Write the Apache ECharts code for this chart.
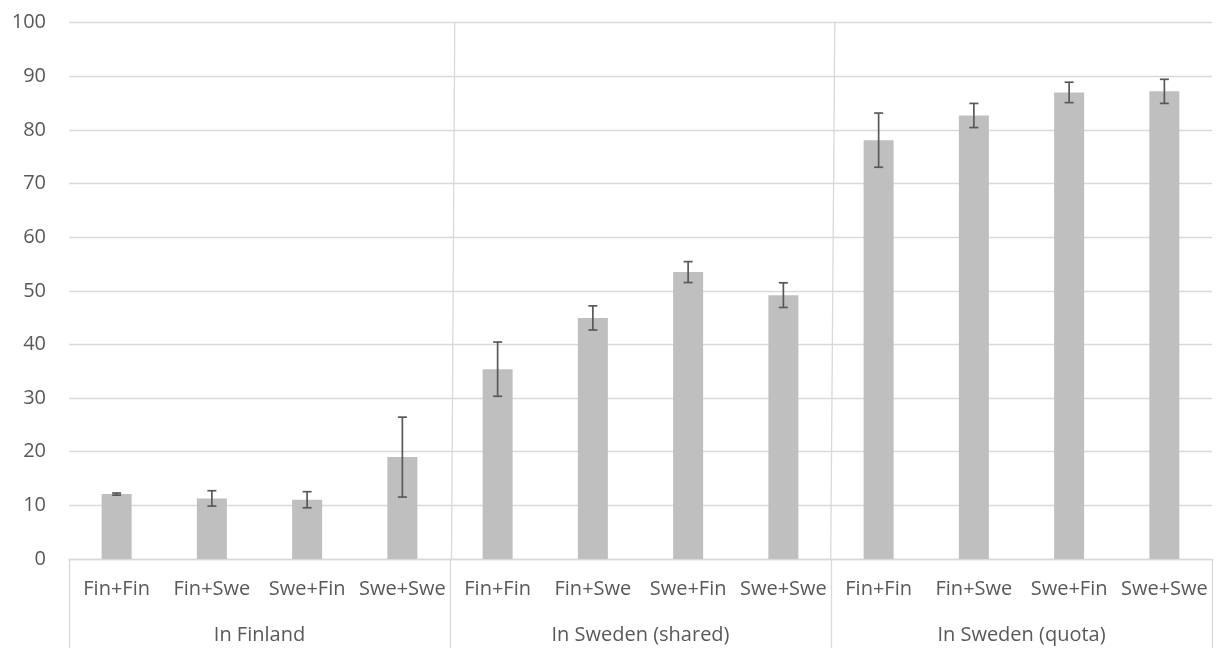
<!DOCTYPE html>
<html>
<head>
<meta charset="utf-8">
<script src="https://cdn.jsdelivr.net/npm/echarts@6/dist/echarts.min.js"></script>
<style>
  html, body { margin: 0; padding: 0; background: #ffffff; }
  #chart { width: 1217px; height: 648px; }
</style>
</head>
<body>
<div id="chart"></div>
<script>
// ---- data ----
const subCategories = ['Fin+Fin', 'Fin+Swe', 'Swe+Fin', 'Swe+Swe',
                       'Fin+Fin', 'Fin+Swe', 'Swe+Fin', 'Swe+Swe',
                       'Fin+Fin', 'Fin+Swe', 'Swe+Fin', 'Swe+Swe'];
const groups = ['In Finland', 'In Sweden (shared)', 'In Sweden (quota)'];
const values = [12.1, 11.3, 11.05, 19.0, 35.4, 44.95, 53.5, 49.2, 78.1, 82.7, 87.0, 87.2];
const errors = [0.2, 1.43, 1.5, 7.45, 5.06, 2.25, 1.95, 2.3, 5.05, 2.25, 1.9, 2.25];
const yTicks = { min: 0, max: 100, interval: 10 };
// group separators (in slot units): top / bottom positions
const separators = [[4.05, 4.016], [8.04, 7.997]];

const textColor = '#595959';
const gridColor = '#d9d9d9';
const fontFamily = "'Open Sans', 'Liberation Sans', sans-serif";
const fontSize = 20;

const errData = values.map((v, i) => [i, v - errors[i], v + errors[i]]);

const chart = echarts.init(document.getElementById('chart'), null, { renderer: 'canvas' });

const option = {
  animation: false,
  backgroundColor: '#ffffff',
  grid: { left: 69, right: 5, top: 22.7, bottom: 89, containLabel: false },
  xAxis: [
    {
      type: 'category',
      data: subCategories,
      position: 'bottom',
      axisLine: { show: true, lineStyle: { color: gridColor, width: 1.3 } },
      axisTick: { show: false },
      axisLabel: { color: textColor, fontSize: fontSize, fontFamily: fontFamily, margin: 20, interval: 0 },
      splitLine: { show: false }
    },
    {
      type: 'category',
      data: groups,
      position: 'bottom',
      axisLine: { show: false },
      axisTick: { show: true, length: 90, interval: 0, lineStyle: { color: gridColor, width: 1.3 } },
      axisLabel: { color: textColor, fontSize: fontSize, fontFamily: fontFamily, margin: 66, interval: 0 },
      splitLine: { show: false }
    },
    {
      type: 'value',
      min: 0,
      max: subCategories.length,
      show: false
    }
  ],
  yAxis: {
    type: 'value',
    min: yTicks.min,
    max: yTicks.max,
    interval: yTicks.interval,
    axisLine: { show: false },
    axisTick: { show: false },
    axisLabel: { color: textColor, fontSize: fontSize, fontFamily: fontFamily, margin: 23 },
    splitLine: { show: true, lineStyle: { color: gridColor, width: 1.3 } }
  },
  series: [
    {
      type: 'bar',
      xAxisIndex: 0,
      data: values,
      barWidth: '31.5%',
      itemStyle: { color: '#bfbfbf' },
      z: 2
    },
    {
      type: 'custom',
      xAxisIndex: 0,
      data: errData,
      z: 5,
      renderItem: function (params, api) {
        const idx = api.value(0);
        const lo = api.coord([idx, api.value(1)]);
        const hi = api.coord([idx, api.value(2)]);
        const cap = 4.5;
        const style = { stroke: '#595959', lineWidth: 1.7 };
        return {
          type: 'group',
          children: [
            { type: 'line', shape: { x1: lo[0], y1: lo[1], x2: hi[0], y2: hi[1] }, style: style },
            { type: 'line', shape: { x1: hi[0] - cap, y1: hi[1], x2: hi[0] + cap, y2: hi[1] }, style: style },
            { type: 'line', shape: { x1: lo[0] - cap, y1: lo[1], x2: lo[0] + cap, y2: lo[1] }, style: style }
          ]
        };
      }
    },
    {
      type: 'line',
      xAxisIndex: 2,
      data: [],
      silent: true,
      z: 1,
      markLine: {
        symbol: ['none', 'none'],
        silent: true,
        label: { show: false },
        lineStyle: { color: gridColor, width: 1.3, type: 'solid' },
        data: separators.map(s => [
          { coord: [s[0], yTicks.max] },
          { coord: [s[1], yTicks.min] }
        ])
      }
    }
  ]
};

chart.setOption(option);
</script>
</body>
</html>
